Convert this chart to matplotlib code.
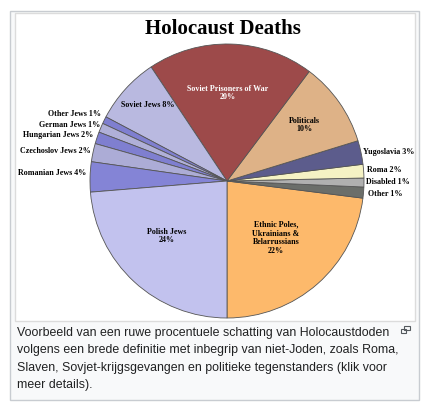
import matplotlib
matplotlib.use("Agg")
import matplotlib.pyplot as plt
from matplotlib.patches import Rectangle

W, H = 431, 411

# shares in percent (measured from slice angles), counterclockwise from the bottom
labels = ["Ethnic Poles,\nUkrainians &\nBelarrussians\n22%", "Other 1%", "Disabled 1%", "Roma 2%",
          "Yugoslavia 3%", "Politicals\n10%", "Soviet Prisoners of War\n20%", "Soviet Jews 8%",
          "Other Jews 1%", "German Jews 1%", "Hungarian Jews 2%", "Czechoslov Jews 2%",
          "Romanian Jews 4%", "Polish Jews\n24%"]
shares = [23.0, 1.3, 1.05, 1.6, 2.8, 10.0, 19.6, 7.9, 0.85, 1.1, 1.4, 2.15, 3.55, 23.7]
colors = ["#fdb96b", "#6b6e6a", "#b0b0b0", "#f5f2c4", "#5c5c8c", "#deb287", "#9d4a4a",
          "#b9b9e0", "#7f7fd0", "#b0b0d8", "#7f7fd0", "#acacd6", "#8484d6", "#c2c2ee"]

# label anchors in pixels: (x, y, horizontal alignment, text colour)
label_pos = [(276, 238, "center", "black"), (368, 194, "left", "black"), (366, 182, "left", "black"),
             (367, 170, "left", "black"), (363, 152, "left", "black"), (304, 125, "center", "black"),
             (228, 93, "center", "white"), (148, 105, "center", "black"), (101, 114, "right", "black"),
             (100, 125, "right", "black"), (93, 135, "right", "black"), (91, 151, "right", "black"),
             (86, 173, "right", "black"), (167, 236, "center", "black")]

caption = ["Voorbeeld van een ruwe procentuele schatting van Holocaustdoden",
           "volgens een brede definitie met inbegrip van niet-Joden, zoals Roma,",
           "Slaven, Sovjet-krijgsgevangen en politieke tegenstanders (klik voor",
           "meer details)."]


def fx(px):
    return px / W


def fy(py):
    return 1 - py / H


fig = plt.figure(figsize=(W / 100, H / 100), dpi=100)
fig.patches.append(Rectangle((fx(10), fy(400)), fx(409), 389 / H, transform=fig.transFigure,
                             facecolor="#f8f9fa", edgecolor="#c8ccd1", linewidth=1, zorder=-2))
fig.patches.append(Rectangle((fx(15), fy(321)), fx(400), 308 / H, transform=fig.transFigure,
                             facecolor="white", edgecolor="#dcdcdc", linewidth=1, zorder=-1))

cx, cy, r = 227, 181, 137
ax = fig.add_axes([fx(cx - r), fy(cy + r), 2 * r / W, 2 * r / H])
ax.pie(shares, colors=colors, startangle=-90, counterclock=True,
       wedgeprops=dict(edgecolor="#555555", linewidth=0.6))
ax.set_xlim(-1, 1)
ax.set_ylim(-1, 1)
ax.set_aspect("auto")
ax.axis("off")

for text, (px, py, ha, col) in zip(labels, label_pos):
    fig.text(fx(px), fy(py), text, ha=ha, va="center", fontsize=5.8, color=col,
             family="Liberation Serif", weight="bold", linespacing=1.15)

fig.text(fx(223), fy(29), "Holocaust Deaths", ha="center", va="center", fontsize=15,
         family="Liberation Serif", weight="bold")

for i, line in enumerate(caption):
    fig.text(fx(17), fy(333 + i * 17.4), line, ha="left", va="center", fontsize=8.9,
             family="Liberation Sans", color="#202122")

# enlarge icon
fig.patches.append(Rectangle((fx(401), fy(333)), 5 / W, 4 / H, transform=fig.transFigure,
                             facecolor="none", edgecolor="#54595d", linewidth=0.8))
fig.patches.append(Rectangle((fx(404), fy(330)), 6 / W, 4 / H, transform=fig.transFigure,
                             facecolor="none", edgecolor="#54595d", linewidth=0.8))

fig.savefig("out.png", dpi=100)
